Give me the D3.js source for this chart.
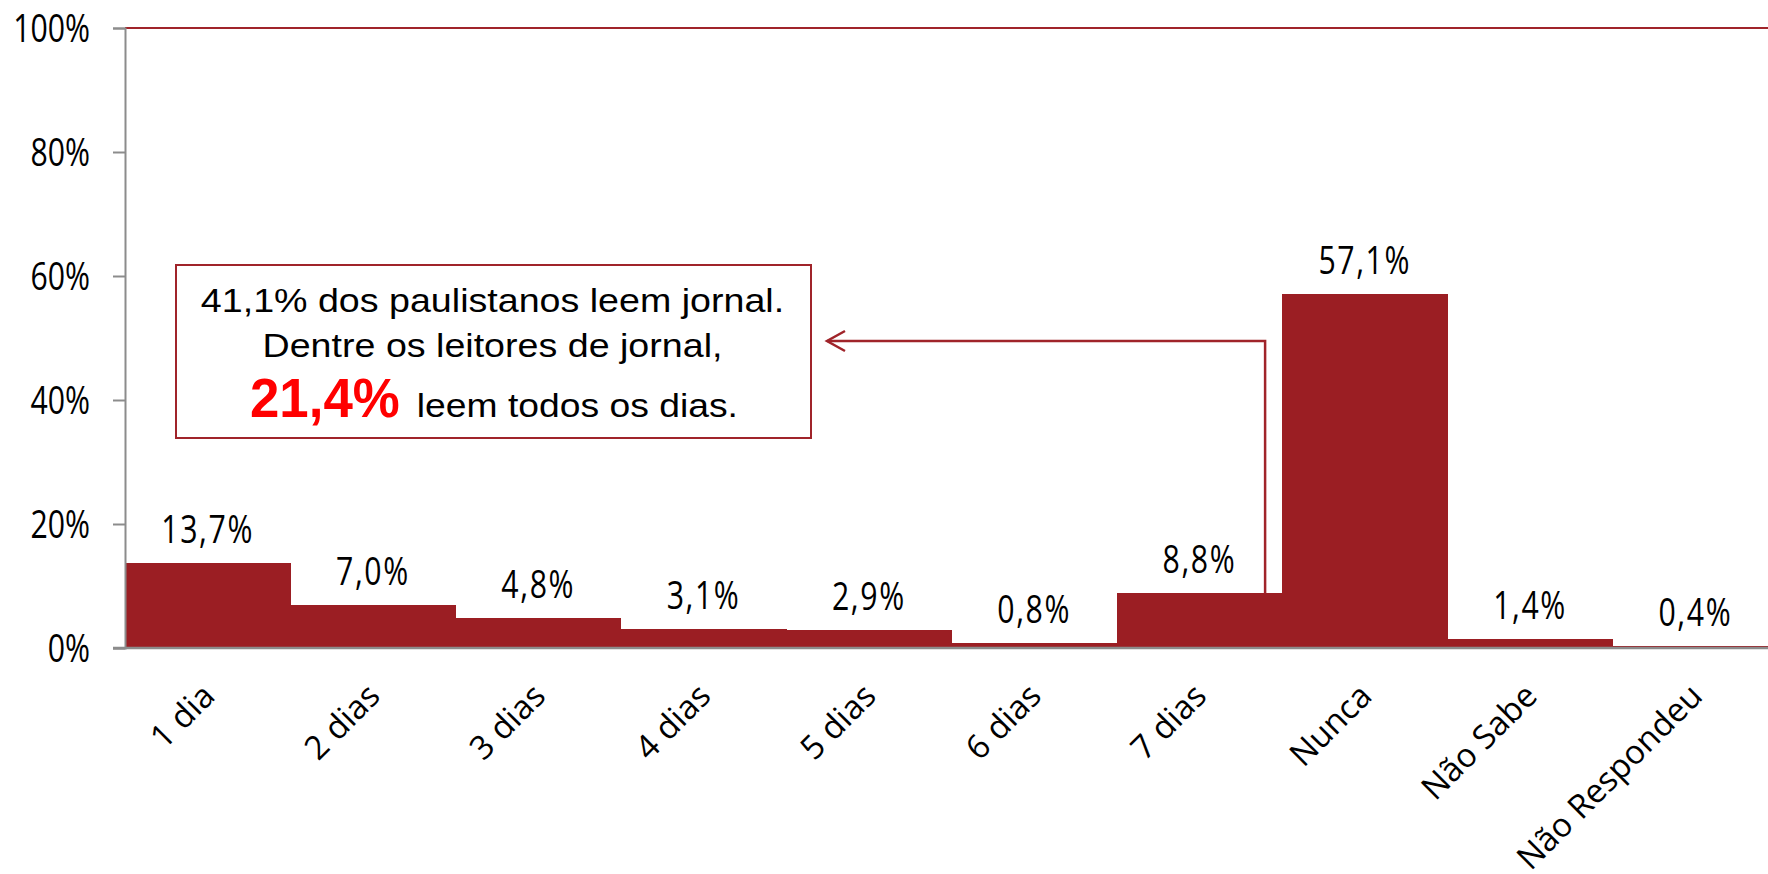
<!DOCTYPE html>
<meta charset="utf-8">
<style>
  body { margin: 0; background: #fff; }
  svg { display: block; }
</style>
<body>
    <script src="https://d3js.org/d3.v7.min.js"></script>
    <script>

var categories = ["1 dia", "2 dias", "3 dias", "4 dias", "5 dias", "6 dias", "7 dias", "Nunca", "Não Sabe", "Não Respondeu"];
var values = [13.7, 7.0, 4.8, 3.1, 2.9, 0.8, 8.8, 57.1, 1.4, 0.4];
var yTicks = [0, 20, 40, 60, 80, 100];

var noteLine1 = "41,1% dos paulistanos leem jornal.";
var noteLine2 = "Dentre os leitores de jornal,";
var noteHighlight = "21,4%";
var noteLine3 = "leem todos os dias.";

var width = 1768, height = 874;
var margin = { top: 28, left: 125, bottom: 226 };
var barColor = "#9b1e23";
var lineRed = "#a0242a";
var axisGray = "#8c8c8c";

var svg = d3.select("body").append("svg")
    .attr("width", width)
    .attr("height", height);

var x = d3.scaleBand()
    .domain(categories)
    .range([margin.left, margin.left + 1653])
    .padding(0);

var y = d3.scaleLinear()
    .domain([0, 100])
    .range([height - margin.bottom, margin.top]);

var data = categories.map(function (c, i) { return { cat: c, v: values[i] }; });

var fmt = function (v) { return v.toFixed(1).replace(".", ",") + "%"; };

// top border line
svg.append("line")
    .attr("x1", margin.left).attr("x2", width)
    .attr("y1", y(100)).attr("y2", y(100))
    .attr("stroke", lineRed).attr("stroke-width", 2);

// bars
svg.selectAll(".bar")
    .data(data)
  .enter().append("rect")
    .attr("class", "bar")
    .attr("x", function (d) { return x(d.cat); })
    .attr("width", x.bandwidth() + 0.5)
    .attr("y", function (d) { return y(d.v); })
    .attr("height", function (d) { return y(0) - y(d.v); })
    .attr("fill", barColor)
    .attr("shape-rendering", "crispEdges");

// y axis
var yAxis = svg.append("g")
    .attr("transform", "translate(" + margin.left + ",0)")
    .call(d3.axisLeft(y).tickValues(yTicks).tickSize(12).tickFormat(function (d) { return d + "%"; }));
yAxis.select(".domain").attr("stroke", axisGray).attr("stroke-width", 2);
yAxis.selectAll(".tick line").attr("stroke", axisGray).attr("stroke-width", 2);
yAxis.selectAll(".tick text")
    .attr("x", null).attr("dy", null)
    .attr("transform", "translate(-35,13.5) scale(0.8,1)")
    .attr("text-anchor", "end")
    .style("font-family", "'Open Sans', sans-serif")
    .style("font-size", "37.8px")
    .attr("fill", "#000");

// x axis line
svg.append("line")
    .attr("x1", margin.left - 12).attr("x2", width)
    .attr("y1", y(0)).attr("y2", y(0))
    .attr("stroke", axisGray).attr("stroke-width", 2.5);

// value labels
svg.selectAll(".val")
    .data(data)
  .enter().append("text")
    .attr("class", "val")
    .attr("transform", function (d) {
        return "translate(" + (x(d.cat) + x.bandwidth() / 2) + "," + (y(d.v) - 20) + ") scale(0.8,1)";
    })
    .attr("text-anchor", "middle")
    .style("font-family", "'Open Sans', sans-serif")
    .style("font-size", "37.8px")
    .style("letter-spacing", "2px")
    .text(function (d) { return fmt(d.v); });

// category labels
svg.selectAll(".cat")
    .data(data)
  .enter().append("text")
    .attr("class", "cat")
    .attr("transform", function (d) {
        return "translate(" + (x(d.cat) + x.bandwidth() / 2 + 9) + "," + (y(0) + 50) + ") rotate(-45)";
    })
    .attr("text-anchor", "end")
    .style("font-family", "'Open Sans', sans-serif")
    .style("font-size", "33px")
    .text(function (d) { return d.cat; });

// annotation box
var box = { x: 176, y: 265, w: 635, h: 173 };
var cx = box.x + box.w / 2 - 1;
svg.append("rect")
    .attr("x", box.x).attr("y", box.y)
    .attr("width", box.w).attr("height", box.h)
    .attr("fill", "#fff")
    .attr("stroke", lineRed).attr("stroke-width", 2);

var note = svg.append("g")
    .style("font-family", "'Liberation Sans', Arial, sans-serif");

note.append("text")
    .attr("transform", "translate(" + cx + "," + (box.y + 47) + ") scale(1.14,1)")
    .attr("text-anchor", "middle")
    .style("font-size", "33px")
    .text(noteLine1);

note.append("text")
    .attr("transform", "translate(" + cx + "," + (box.y + 92) + ") scale(1.14,1)")
    .attr("text-anchor", "middle")
    .style("font-size", "33px")
    .text(noteLine2);

var hi = note.append("text")
    .attr("transform", "translate(250," + (box.y + 152) + ") scale(0.96,1)")
    .style("font-size", "55px")
    .style("font-weight", "bold")
    .attr("fill", "#ff0000")
    .text(noteHighlight);

var hiW = hi.node().getComputedTextLength() * 0.96;
note.append("text")
    .attr("transform", "translate(" + (250 + hiW + 17) + "," + (box.y + 152) + ") scale(1.13,1)")
    .style("font-size", "33px")
    .text(noteLine3);

// arrow from "7 dias" bar to the box
var arrowX = x("7 dias") + x.bandwidth() - 17;
var arrowY = 341;
var tipX = box.x + box.w + 16;
svg.append("path")
    .attr("d", "M" + arrowX + "," + y(values[6]) + "V" + arrowY + "H" + tipX)
    .attr("fill", "none")
    .attr("stroke", lineRed).attr("stroke-width", 2.5);
svg.append("path")
    .attr("d", "M" + (tipX + 18) + "," + (arrowY - 10) + "L" + tipX + "," + arrowY + "L" + (tipX + 18) + "," + (arrowY + 10))
    .attr("fill", "none")
    .attr("stroke", lineRed).attr("stroke-width", 2.5);

    </script>
</body>
